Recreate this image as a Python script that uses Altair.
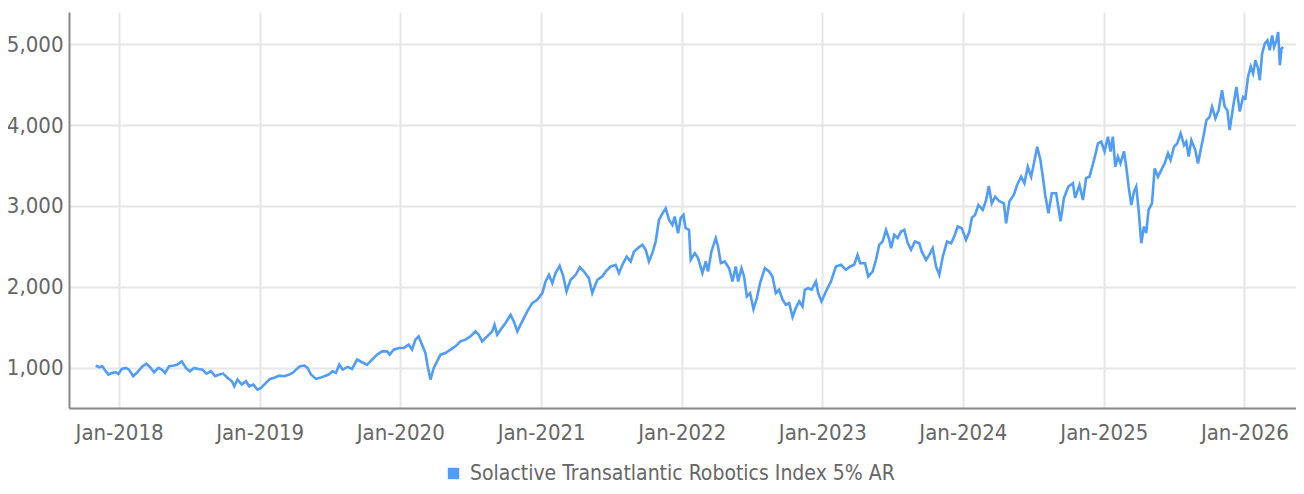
import altair as alt
import pandas as pd

SERIES = "Solactive Transatlantic Robotics Index 5% AR"

# decimal years (time of each observation)
years = [
    2017.834, 2017.858, 2017.881, 2017.900, 2017.924, 2017.952, 2017.977, 2017.995,
    2018.019, 2018.048, 2018.071, 2018.100, 2018.130, 2018.162, 2018.194, 2018.219,
    2018.249, 2018.280, 2018.304, 2018.327, 2018.356, 2018.391, 2018.415, 2018.446,
    2018.475, 2018.503, 2018.534, 2018.564, 2018.593, 2018.621, 2018.653, 2018.683,
    2018.712, 2018.740, 2018.771, 2018.802, 2018.819, 2018.842, 2018.873, 2018.902,
    2018.925, 2018.954, 2018.984, 2019.009, 2019.044, 2019.073, 2019.103, 2019.139,
    2019.174, 2019.210, 2019.233, 2019.258, 2019.286, 2019.317, 2019.340, 2019.364,
    2019.400, 2019.428, 2019.459, 2019.490, 2019.518, 2019.542, 2019.566, 2019.589,
    2019.625, 2019.656, 2019.692, 2019.727, 2019.763, 2019.799, 2019.834, 2019.870,
    2019.905, 2019.924, 2019.952, 2019.988, 2020.024, 2020.059, 2020.083, 2020.107,
    2020.130, 2020.154, 2020.178, 2020.194, 2020.214, 2020.237, 2020.261, 2020.285,
    2020.320, 2020.356, 2020.391, 2020.427, 2020.463, 2020.498, 2020.534, 2020.557,
    2020.581, 2020.617, 2020.653, 2020.669, 2020.688, 2020.712, 2020.747, 2020.783,
    2020.806, 2020.831, 2020.866, 2020.902, 2020.937, 2020.973, 2021.009, 2021.032,
    2021.056, 2021.080, 2021.103, 2021.132, 2021.158, 2021.181, 2021.210, 2021.246,
    2021.276, 2021.305, 2021.340, 2021.364, 2021.400, 2021.436, 2021.459, 2021.495,
    2021.530, 2021.554, 2021.578, 2021.609, 2021.637, 2021.661, 2021.696, 2021.720,
    2021.744, 2021.767, 2021.791, 2021.815, 2021.838, 2021.863, 2021.886, 2021.910,
    2021.934, 2021.950, 2021.974, 2021.993, 2022.012, 2022.028, 2022.052, 2022.064,
    2022.093, 2022.116, 2022.147, 2022.171, 2022.187, 2022.211, 2022.242, 2022.258,
    2022.278, 2022.306, 2022.337, 2022.361, 2022.384, 2022.401, 2022.425, 2022.443,
    2022.463, 2022.486, 2022.510, 2022.534, 2022.557, 2022.591, 2022.621, 2022.645,
    2022.669, 2022.692, 2022.717, 2022.740, 2022.764, 2022.788, 2022.811, 2022.835,
    2022.859, 2022.875, 2022.899, 2022.923, 2022.954, 2022.970, 2022.994, 2023.025,
    2023.061, 2023.096, 2023.132, 2023.167, 2023.198, 2023.226, 2023.250, 2023.269,
    2023.303, 2023.326, 2023.357, 2023.381, 2023.404, 2023.428, 2023.452, 2023.476,
    2023.488, 2023.511, 2023.535, 2023.559, 2023.582, 2023.606, 2023.630, 2023.658,
    2023.689, 2023.706, 2023.737, 2023.760, 2023.784, 2023.808, 2023.831, 2023.856,
    2023.886, 2023.915, 2023.938, 2023.962, 2023.991, 2024.021, 2024.045, 2024.062,
    2024.085, 2024.109, 2024.140, 2024.164, 2024.183, 2024.204, 2024.228, 2024.258,
    2024.290, 2024.306, 2024.330, 2024.361, 2024.384, 2024.413, 2024.436, 2024.460,
    2024.484, 2024.507, 2024.527, 2024.550, 2024.567, 2024.584, 2024.607, 2024.631,
    2024.662, 2024.693, 2024.717, 2024.749, 2024.781, 2024.797, 2024.828, 2024.852,
    2024.875, 2024.899, 2024.934, 2024.959, 2024.982, 2025.006, 2025.030, 2025.048,
    2025.065, 2025.082, 2025.101, 2025.119, 2025.144, 2025.160, 2025.177, 2025.196,
    2025.215, 2025.231, 2025.248, 2025.267, 2025.286, 2025.302, 2025.319, 2025.343,
    2025.362, 2025.386, 2025.409, 2025.433, 2025.457, 2025.475, 2025.500, 2025.523,
    2025.547, 2025.571, 2025.587, 2025.604, 2025.623, 2025.651, 2025.670, 2025.689,
    2025.713, 2025.730, 2025.753, 2025.770, 2025.794, 2025.817, 2025.841, 2025.860,
    2025.879, 2025.895, 2025.920, 2025.943, 2025.967, 2025.991, 2026.007, 2026.026,
    2026.045, 2026.062, 2026.078, 2026.097, 2026.109, 2026.126, 2026.145, 2026.164,
    2026.180, 2026.197, 2026.211, 2026.228, 2026.240, 2026.252, 2026.264, 2026.276,
]

values = [
    1025, 1004, 1016, 967, 914, 935, 942, 922,
    983, 996, 975, 893, 942, 1008, 1049, 1008,
    942, 996, 975, 935, 1016, 1025, 1037, 1078,
    996, 955, 996, 983, 975, 926, 955, 893,
    914, 926, 873, 831, 769, 852, 790, 831,
    769, 790, 728, 749, 811, 860, 873, 901,
    893, 914, 935, 975, 1016, 1025, 996, 914,
    860, 873, 893, 914, 955, 935, 1037, 975,
    1008, 983, 1099, 1066, 1037, 1099, 1160, 1201,
    1201, 1160, 1222, 1243, 1243, 1284, 1222, 1346,
    1387, 1284, 1181, 1016, 852, 996, 1078, 1160,
    1181, 1222, 1263, 1325, 1346, 1387, 1448, 1407,
    1325, 1387, 1448, 1531, 1407, 1469, 1551, 1654,
    1572, 1448, 1572, 1695, 1798, 1840, 1922, 2066,
    2148, 2045, 2169, 2259, 2128, 1942, 2086, 2148,
    2242, 2189, 2107, 1922, 2086, 2128, 2189, 2251,
    2272, 2169, 2272, 2374, 2313, 2437, 2490, 2519,
    2457, 2313, 2416, 2560, 2827, 2909, 2971, 2827,
    2765, 2868, 2663, 2852, 2889, 2725, 2704, 2333,
    2416, 2354, 2169, 2313, 2189, 2437, 2601, 2498,
    2292, 2313, 2230, 2066, 2251, 2066, 2230, 2128,
    1881, 1922, 1724, 1860, 2045, 2230, 2189, 2128,
    1922, 1963, 1840, 1778, 1798, 1626, 1737, 1819,
    1757, 1963, 1984, 1963, 2066, 1922, 1819, 1942,
    2066, 2251, 2272, 2210, 2251, 2272, 2395, 2292,
    2292, 2128, 2189, 2333, 2519, 2560, 2704, 2580,
    2477, 2642, 2601, 2683, 2704, 2543, 2457, 2560,
    2539, 2437, 2333, 2395, 2477, 2251, 2148, 2374,
    2560, 2539, 2626, 2745, 2725, 2580, 2683, 2852,
    2889, 3012, 2951, 3074, 3247, 3033, 3115, 3058,
    3033, 2786, 3058, 3136, 3259, 3362, 3280, 3486,
    3362, 3552, 3733, 3568, 3362, 3136, 2909, 3157,
    3157, 2811, 3099, 3241, 3280, 3099, 3259, 3074,
    3346, 3362, 3589, 3774, 3795, 3674, 3857, 3674,
    3857, 3486, 3610, 3527, 3674, 3486, 3241, 3012,
    3177, 3241, 2951, 2539, 2745, 2663, 2951, 3033,
    3465, 3362, 3444, 3527, 3651, 3568, 3733, 3774,
    3898, 3753, 3795, 3610, 3815, 3691, 3527, 3691,
    3898, 4062, 4103, 4227, 4083, 4185, 4432, 4227,
    4185, 3938, 4227, 4473, 4169, 4350, 4330, 4599,
    4723, 4640, 4802, 4700, 4556, 4884, 5008, 5049,
    4926, 5111, 4967, 5049, 5152, 4741, 4947, 4967,
]

y_ticks = [1000, 2000, 3000, 4000, 5000]
x_tick_years = list(range(2018, 2027))
y_domain = [500, 5400]


def to_date(yr):
    return pd.Timestamp("2018-01-01") + pd.Timedelta(days=(yr - 2018) * 365.25)


df = pd.DataFrame({
    "date": [to_date(y) for y in years],
    "value": values,
    "series": SERIES,
})

FONT = "Liberation Sans Narrow, DejaVu Sans Condensed, Roboto, sans-serif"
BLUE = "#4f9df8"

chart = alt.Chart(df).mark_line(strokeWidth=2.6, color=BLUE).encode(
    x=alt.X(
        "date:T",
        title=None,
        scale=alt.Scale(domain=[alt.DateTime(year=2017, month=8, date=24),
                                alt.DateTime(year=2026, month=5, date=15)]),
        axis=alt.Axis(
            values=[alt.DateTime(year=y, month=1, date=1) for y in x_tick_years],
            format="%b-%Y",
            labelFontSize=22,
            labelPadding=14,
            ticks=False,
            grid=True,
        ),
    ),
    y=alt.Y(
        "value:Q",
        title=None,
        scale=alt.Scale(domain=y_domain, nice=False, zero=False),
        axis=alt.Axis(
            values=y_ticks,
            format=",d",
            labelFontSize=22,
            labelPadding=6,
            ticks=False,
            grid=True,
        ),
    ),
    color=alt.Color(
        "series:N",
        scale=alt.Scale(range=[BLUE]),
        legend=alt.Legend(
            title=None,
            orient="none",
            legendX=374,
            legendY=451,
            symbolType="square",
            symbolSize=130,
            symbolFillColor=BLUE,
            symbolStrokeColor=BLUE,
            symbolStrokeWidth=0,
            labelFontSize=21,
            labelOffset=6,
            labelColor="#666666",
            labelFont=FONT,
            labelLimit=800,
        ),
    ),
).properties(
    width=1227,
    height=396,
    padding={"left": 61, "top": 4, "right": 0, "bottom": 78},
    autosize=alt.AutoSizeParams(type="none"),
).configure_view(
    stroke=None,
).configure_axis(
    labelFont=FONT,
    labelColor="#666666",
    gridColor="#e6e6e6",
    gridWidth=2,
    domainColor="#888888",
    domainWidth=2,
)

chart.save("out.html", embed_options={"renderer": "svg", "actions": False})
